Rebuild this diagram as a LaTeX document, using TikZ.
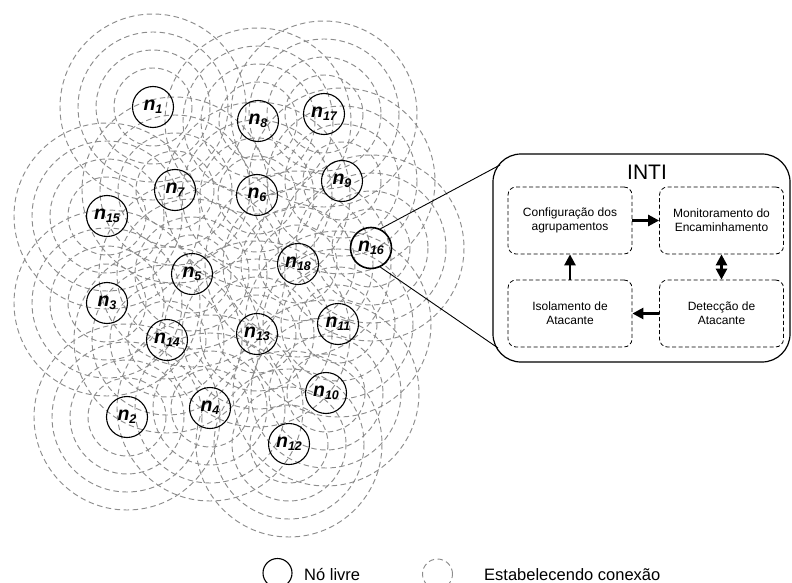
\documentclass[tikz,border=0pt]{standalone}
\usepackage{fontspec}
\setmainfont{Liberation Sans}
\usetikzlibrary{arrows.meta}
\definecolor{ringgray}{RGB}{140,140,140}
% node label: bold italic n with a small index
\newcommand{\nlabel}[1]{\fontsize{19.5}{19.5}\selectfont\bfseries\itshape n\raisebox{-0.3ex}{\fontsize{12.5}{12.5}\selectfont #1}}
\begin{document}
\begin{tikzpicture}[x=1pt,y=-1pt,
  ring/.style={draw=ringgray, dash pattern=on 5.5pt off 3.5pt, line width=0.95pt},
  netnode/.style={circle, draw, line width=1.1pt, minimum size=41pt, inner sep=0pt},
  stage/.style={draw, dash pattern=on 4pt off 2.5pt, rounded corners=8pt, line width=0.8pt,
    minimum width=124pt, minimum height=67pt, align=center,
    font=\fontsize{12}{14.3}\selectfont},
  tip/.style={Triangle[length=11pt,width=11pt]},
  flow/.style={-{Triangle[length=11pt,width=11pt]}, line width=2.6pt},
  legendtext/.style={anchor=base west, inner sep=0pt, font=\fontsize{16.5}{18}\selectfont}]
\useasboundingbox (0,0) rectangle (792,583);

% radio ranges around every sensor node
\foreach \x/\y in {153/107,258/121,324/114,175/190,257/195,342/181,107/216,371/248,298/264,
                   192/274,107/303,167/340,257/334,338/324,326/393,210/408,127/417,289/444}{
  \foreach \r in {39,57,75,93}
    \draw[ring] (\x,\y) circle[radius=\r];
}

% sensor nodes
\node[netnode] (n1)  at (153,107) {\nlabel{1}};
\node[netnode] (n8)  at (258,121) {\nlabel{8}};
\node[netnode] (n17) at (324,114) {\nlabel{17}};
\node[netnode] (n7)  at (175,190) {\nlabel{7}};
\node[netnode] (n6)  at (257,195) {\nlabel{6}};
\node[netnode] (n9)  at (342,181) {\nlabel{9}};
\node[netnode] (n15) at (107,216) {\nlabel{15}};
\node[netnode, line width=1.6pt] (n16) at (371,248) {\nlabel{16}};
\node[netnode] (n18) at (298,264) {\nlabel{18}};
\node[netnode] (n5)  at (192,274) {\nlabel{5}};
\node[netnode] (n3)  at (107,303) {\nlabel{3}};
\node[netnode] (n14) at (167,340) {\nlabel{14}};
\node[netnode] (n13) at (257,334) {\nlabel{13}};
\node[netnode] (n11) at (338,324) {\nlabel{11}};
\node[netnode] (n10) at (326,393) {\nlabel{10}};
\node[netnode] (n4)  at (210,408) {\nlabel{4}};
\node[netnode] (n2)  at (127,417) {\nlabel{2}};
\node[netnode] (n12) at (289,444) {\nlabel{12}};

% INTI detail box
\node[draw, rounded corners=28pt, line width=1.2pt, minimum width=297pt, minimum height=208pt]
  (inti) at (641.5,258) {};
\node[font=\fontsize{21}{21}\selectfont] (title) at (647,172) {INTI};
\node[stage] (cfg) at (570,220.5)   {Configuração dos\\agrupamentos};
\node[stage] (mon) at (721.5,220.5) {Monitoramento do\\Encaminhamento};
\node[stage] (iso) at (570,313.5)   {Isolamento de\\Atacante};
\node[stage] (det) at (721.5,313.5) {Detecção de\\Atacante};

\draw[flow] (cfg.east) -- (mon.west);
\draw[{Triangle[length=11pt,width=11pt]}-{Triangle[length=11pt,width=11pt]}, line width=2.6pt]
  (mon.south) -- (det.north);
\draw[flow] (det.west) -- (iso.east);
\draw[flow] (iso.north) -- (cfg.south);

% zoom lines from n16 to the detail box
\coordinate (zt) at (500,165);
\coordinate (zb) at (498,348);
\draw[line width=0.9pt] (n16.64) -- (zt);
\draw[line width=0.9pt] (n16.-64) -- (zb);

% legend
\node[circle, draw, line width=1.1pt, minimum size=29pt, inner sep=0pt] (legfree) at (277.5,573) {};
\node[legendtext] (legfreetxt) at (304,580) {Nó livre};
\node[circle, ring, minimum size=30pt, inner sep=0pt] (legring) at (437.5,574) {};
\node[legendtext] (legringtxt) at (484,580) {Estabelecendo conexão};
\end{tikzpicture}
\end{document}
